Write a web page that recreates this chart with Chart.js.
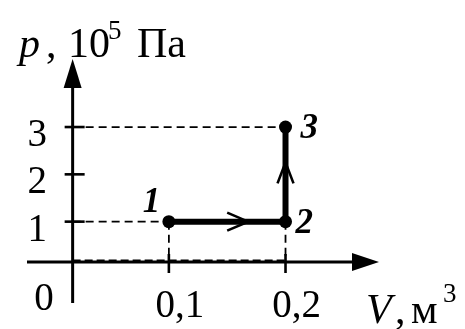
<!DOCTYPE html>
<html>
<head>
<meta charset="utf-8">
<script src="https://cdn.jsdelivr.net/npm/chart.js@4/dist/chart.umd.min.js"></script>
<style>
  html, body { margin: 0; padding: 0; background: #fff; }
  #wrap { width: 465px; height: 329px; }
</style>
</head>
<body>
<div id="wrap"><canvas id="pv" width="465" height="329"></canvas></div>
<script>
// states of the gas on the p-V diagram
const states = ['1', '2', '3'];
const volume = [0.1, 0.2, 0.2];      // m^3
const pressure = [1, 1, 3];          // 10^5 Pa
// axis ticks
const pTicks = [1, 2, 3];
const pTickLabels = ['1', '2', '3'];
const vTicks = [0.1, 0.2];
const vTickLabels = ['0,1', '0,2'];

// where the drawn axes cross (schematic, like the textbook figure)
const AXIS_V = 0.0175;
const AXIS_P = 0.147;

const SERIF = '"Liberation Serif", "DejaVu Serif", serif';
const INK = '#000';

const processPts = volume.map((v, i) => ({ x: v, y: pressure[i] }));

// dashed projections of the states onto the axes
const guides = [
  [{ x: AXIS_V, y: pressure[2] }, { x: volume[2], y: pressure[2] }],
  [{ x: AXIS_V, y: pressure[0] }, { x: volume[0], y: pressure[0] }],
  [{ x: volume[0], y: pressure[0] }, { x: volume[0], y: AXIS_P }],
  [{ x: volume[1], y: pressure[1] }, { x: volume[1], y: AXIS_P }]
];

const guideSets = guides.map(g => ({
  data: g,
  showLine: true,
  borderColor: INK,
  borderWidth: 1.8,
  borderDash: [8, 5],
  pointRadius: 0,
  order: 2
}));

function arrowHead(ctx, x, y, dx, dy, len, half) {
  // filled triangle pointing along (dx, dy)
  ctx.beginPath();
  ctx.moveTo(x, y);
  ctx.lineTo(x - dx * len - dy * half, y - dy * len + dx * half);
  ctx.lineTo(x - dx * len + dy * half, y - dy * len - dx * half);
  ctx.closePath();
  ctx.fill();
}

function chevron(ctx, x, y, dx, dy, len, half) {
  ctx.beginPath();
  ctx.moveTo(x - dx * len - dy * half, y - dy * len + dx * half);
  ctx.lineTo(x, y);
  ctx.lineTo(x - dx * len + dy * half, y - dy * len - dx * half);
  ctx.stroke();
}

const axesPlugin = {
  id: 'axesPlugin',
  beforeDatasetsDraw(chart) {
    const { ctx, scales: { x, y } } = chart;
    const ox = x.getPixelForValue(AXIS_V);
    const oy = y.getPixelForValue(AXIS_P);
    ctx.save();
    ctx.strokeStyle = INK;
    ctx.fillStyle = INK;
    ctx.lineWidth = 3;

    // horizontal axis with arrow
    ctx.beginPath();
    ctx.moveTo(27, oy);
    ctx.lineTo(360, oy);
    ctx.stroke();
    arrowHead(ctx, 379, oy, 1, 0, 27, 9);

    // vertical axis with arrow
    ctx.beginPath();
    ctx.moveTo(ox, 303);
    ctx.lineTo(ox, 80);
    ctx.stroke();
    arrowHead(ctx, ox, 59, 0, -1, 29, 9);

    // dashed trace running along the V axis
    ctx.lineWidth = 2;
    ctx.setLineDash([8, 4]);
    ctx.beginPath();
    ctx.moveTo(ox, oy - 1.5);
    ctx.lineTo(x.getPixelForValue(volume[2]), oy - 1.5);
    ctx.stroke();
    ctx.setLineDash([]);

    // tick marks
    ctx.lineWidth = 2.6;
    pTicks.forEach(p => {
      const py = y.getPixelForValue(p);
      ctx.beginPath();
      ctx.moveTo(ox - 8, py);
      ctx.lineTo(ox + 12, py);
      ctx.stroke();
    });
    vTicks.forEach(v => {
      const px = x.getPixelForValue(v);
      ctx.beginPath();
      ctx.moveTo(px, oy - 8);
      ctx.lineTo(px, oy + 11);
      ctx.stroke();
    });

    // tick labels
    ctx.font = '39px ' + SERIF;
    ctx.textAlign = 'right';
    ctx.textBaseline = 'alphabetic';
    pTicks.forEach((p, i) => {
      ctx.fillText(pTickLabels[i], 47, y.getPixelForValue(p) + 19);
    });
    ctx.textAlign = 'center';
    vTicks.forEach((v, i) => {
      ctx.fillText(vTickLabels[i], x.getPixelForValue(v) + 11, 317);
    });
    ctx.fillText('0', 44, 310);

    // axis titles
    ctx.textAlign = 'left';
    ctx.font = 'italic 42px ' + SERIF;
    ctx.fillText('p', 19, 57);
    ctx.font = '42px ' + SERIF;
    ctx.fillText(',', 46, 57);
    ctx.fillText('10', 68, 57);
    ctx.font = '27px ' + SERIF;
    ctx.fillText('5', 108, 39);
    ctx.font = '42px ' + SERIF;
    ctx.fillText('Па', 137, 57);

    ctx.font = 'italic 42px ' + SERIF;
    ctx.fillText('V', 366, 323);
    ctx.font = '42px ' + SERIF;
    ctx.fillText(',', 395, 323);
    ctx.fillText('м', 411, 323);
    ctx.font = '27px ' + SERIF;
    ctx.fillText('3', 443, 302);
    ctx.restore();
  },
  afterDatasetsDraw(chart) {
    const { ctx, scales: { x, y } } = chart;
    ctx.save();
    ctx.strokeStyle = INK;
    ctx.lineWidth = 2.6;
    // direction arrows on 1->2 and 2->3
    const y12 = y.getPixelForValue(pressure[0]);
    const xa = x.getPixelForValue((volume[0] + volume[1]) / 2) + 21;
    chevron(ctx, xa, y12, 1, 0, 21, 9);
    const x23 = x.getPixelForValue(volume[1]);
    const ya = y.getPixelForValue((pressure[1] + pressure[2]) / 2) - 12;
    chevron(ctx, x23, ya, 0, -1, 21, 8);

    // state numbers
    ctx.fillStyle = INK;
    ctx.font = 'bold italic 35px ' + SERIF;
    ctx.textAlign = 'left';
    ctx.textBaseline = 'alphabetic';
    const offs = [[-26, -10], [10, 11], [15, 11]];
    states.forEach((s, i) => {
      ctx.fillText(s, x.getPixelForValue(volume[i]) + offs[i][0],
        y.getPixelForValue(pressure[i]) + offs[i][1]);
    });
    ctx.restore();
  }
};

new Chart(document.getElementById('pv'), {
  type: 'scatter',
  data: {
    datasets: [
      {
        label: 'process',
        data: processPts,
        showLine: true,
        borderColor: INK,
        backgroundColor: INK,
        borderWidth: 6,
        pointRadius: 6.5,
        pointBackgroundColor: INK,
        pointBorderWidth: 0,
        order: 1
      },
      ...guideSets
    ]
  },
  options: {
    responsive: false,
    animation: false,
    layout: { padding: 0 },
    plugins: { legend: { display: false }, tooltip: { enabled: false } },
    scales: {
      x: { type: 'linear', display: false, min: -0.0392, max: 0.3483 },
      y: { type: 'linear', display: false, min: -1.132, max: 5.548 }
    }
  },
  plugins: [axesPlugin]
});
</script>
</body>
</html>
